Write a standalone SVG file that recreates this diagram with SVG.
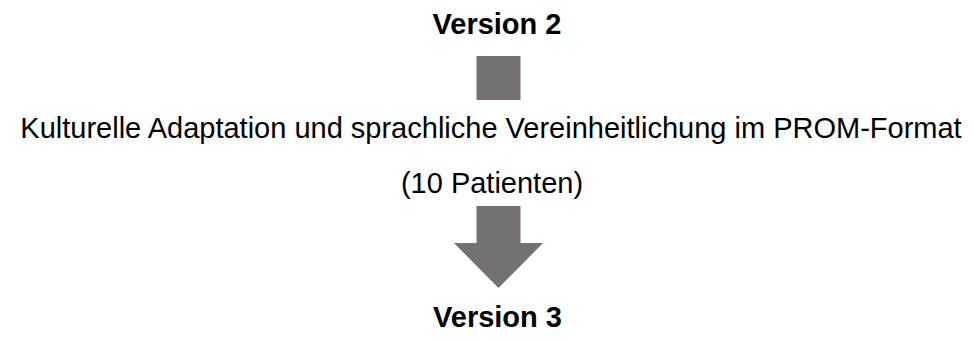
<svg xmlns="http://www.w3.org/2000/svg" width="974" height="341" viewBox="0 0 974 341">
<style>
.t{font-family:"Liberation Sans",Arial,sans-serif;font-size:29px;fill:#000;text-anchor:middle}
.b{font-weight:bold}
.g{fill:#767171}
</style>
<rect width="974" height="341" fill="#fff"/>
<g id="version2"><text class="t b" x="497" y="34">Version 2</text></g>
<g id="step">
<rect class="g" x="476.5" y="56" width="44" height="44"/>
<text class="t" x="491" y="138">Kulturelle Adaptation und sprachliche Vereinheitlichung im PROM-Format</text>
<text class="t" x="492" y="193">(10 Patienten)</text>
</g>
<g id="connectors">
<polygon class="g" points="476.5,206 520.5,206 520.5,243 543,243 498.5,288 454,243 476.5,243"/>
</g>
<g id="version3"><text class="t b" x="497.5" y="327">Version 3</text></g>
</svg>
